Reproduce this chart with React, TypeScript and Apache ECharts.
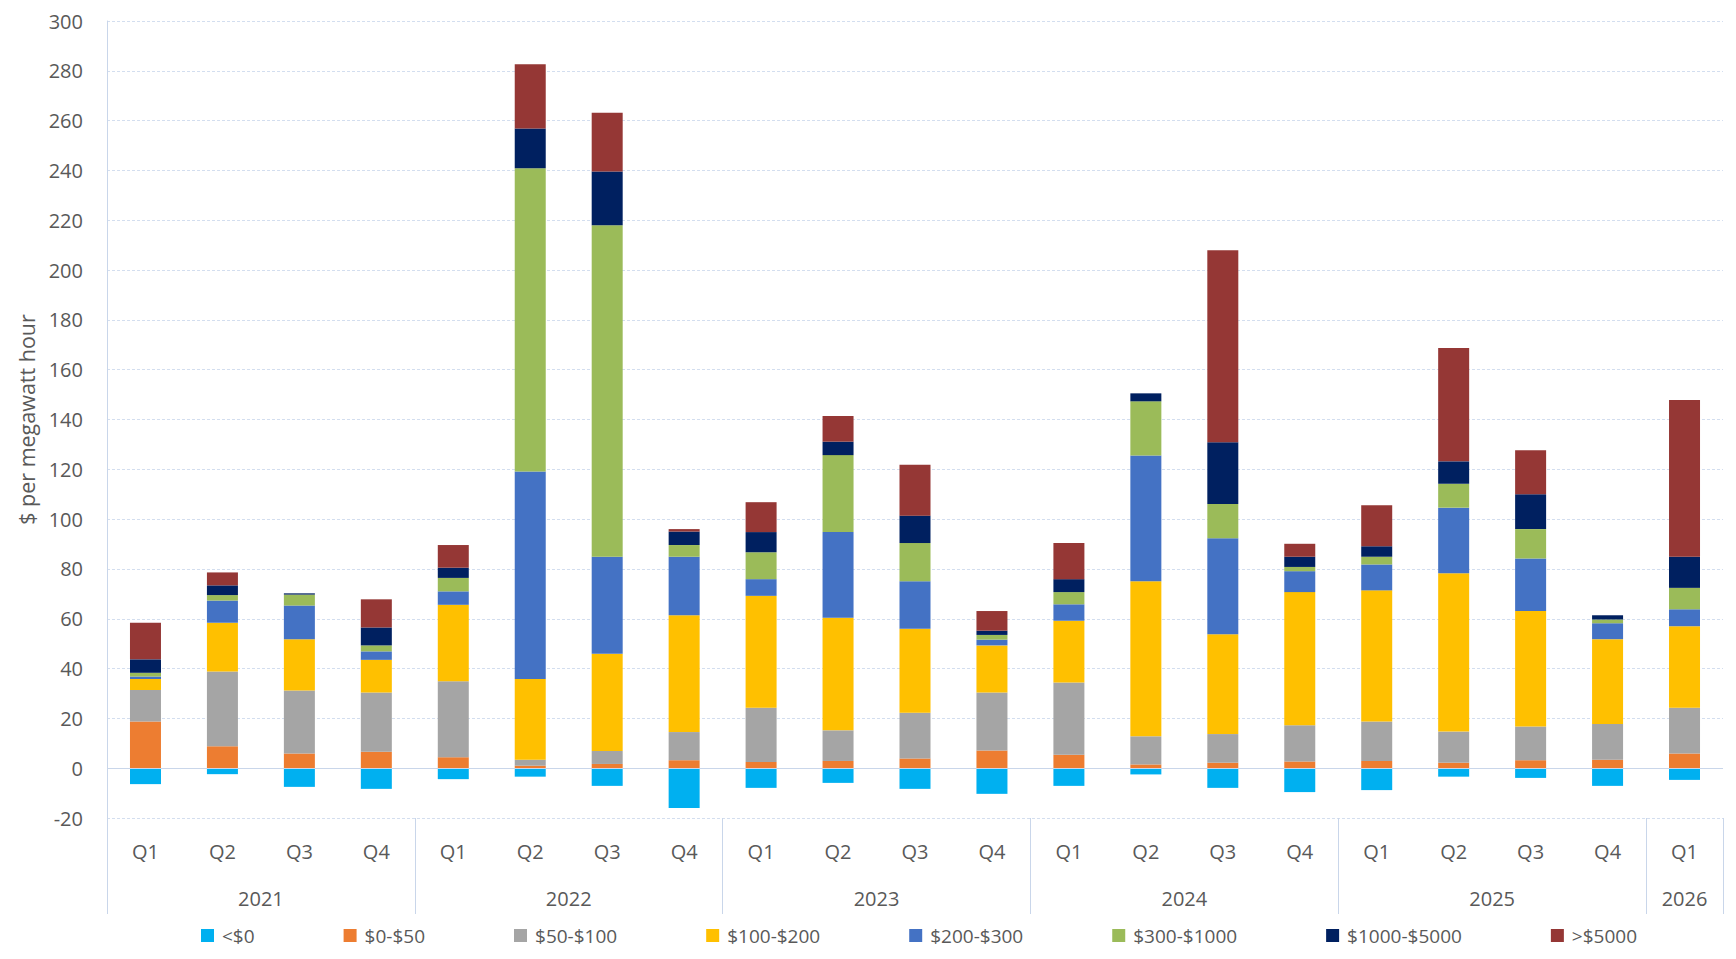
import React, { useEffect, useRef } from "react";
import * as echarts from "echarts";

const quarters = ["Q1","Q2","Q3","Q4","Q1","Q2","Q3","Q4","Q1","Q2","Q3","Q4","Q1","Q2","Q3","Q4","Q1","Q2","Q3","Q4","Q1"];
const years = ["2021","2022","2023","2024","2025","2026"];
const quartersPerYear = [4,4,4,4,4,1];

const seriesNames = ["<$0","$0-$50","$50-$100","$100-$200","$200-$300","$300-$1000","$1000-$5000",">$5000"];
const seriesColors = ["#00B0F0","#ED7D31","#A5A5A5","#FFC000","#4472C4","#9BBB59","#002060","#953735"];

const below0 = [-6.4,-2.4,-7.5,-8.3,-4.4,-3.4,-7.1,-16.0,-7.9,-5.9,-8.3,-10.3,-7.1,-2.5,-7.9,-9.6,-8.8,-3.4,-3.9,-7.1,-4.7];
const p0to50 = [18.7,8.8,5.9,6.6,4.4,1.0,1.7,3.2,2.5,2.9,3.9,7.1,5.4,1.5,2.2,2.7,2.9,2.2,3.2,3.4,5.9];
const p50to100 = [12.7,30.0,25.3,23.8,30.5,2.4,5.2,11.3,21.8,12.3,18.4,23.3,29.0,11.3,11.5,14.5,15.8,12.5,13.5,14.3,18.4];
const p100to200 = [4.4,19.6,20.6,13.1,30.7,32.4,39.0,46.9,44.9,45.2,33.7,18.9,24.8,62.3,40.1,53.5,52.7,63.6,46.4,34.1,32.7];
const p200to300 = [1.0,8.9,13.5,3.4,5.4,83.3,39.0,23.5,6.7,34.4,19.1,2.3,6.6,50.4,38.5,8.4,10.4,26.3,21.1,6.4,6.8];
const p300to1000 = [1.5,2.2,4.4,2.4,5.4,121.8,133.1,4.7,10.8,30.9,15.3,1.9,4.9,21.8,13.8,1.7,3.1,9.6,11.8,1.5,8.6];
const p1000to5000 = [5.4,3.9,0.5,7.2,4.1,15.9,21.6,5.4,8.1,5.4,11.0,1.7,5.2,3.2,24.8,4.1,4.2,9.0,14.0,1.7,12.5];
const above5000 = [14.7,5.2,0,11.3,9.1,25.8,23.6,1.0,12.0,10.3,20.4,7.9,14.5,0,77.1,5.2,16.5,45.5,17.7,0,62.9];

const seriesData = [below0,p0to50,p50to100,p100to200,p200to300,p300to1000,p1000to5000,above5000];

const yTicks = { min: -20, max: 300, interval: 20 };

const FONT = "'Open Sans', 'Noto Sans', sans-serif";
const TEXT = "#595959";
const LINE = "#C9D6EA";

export default function App() {
  const ref = useRef<HTMLDivElement>(null);
  useEffect(() => {
    if (!ref.current) return;
    const chart = echarts.init(ref.current, null, { renderer: "svg" });

    // year axis: two slots per quarter, boundaryGap false
    const slots = quarters.length * 2 + 1;
    const yearSlots: string[] = new Array(slots).fill("");
    const boundaries = new Set<number>([0]);
    let q = 0;
    years.forEach((y, i) => {
      const n = quartersPerYear[i];
      yearSlots[q * 2 + n] = y;
      q += n;
      boundaries.add(q * 2);
    });

    const option: any = {
      animation: false,
      textStyle: { fontFamily: FONT },
      grid: { left: 107, right: 13, top: 21, bottom: 141, containLabel: false },
      legend: {
        data: seriesNames,
        left: 196,
        top: 921,
        itemWidth: 13,
        itemHeight: 13,
        itemGap: 89,
        icon: "rect",
        selectedMode: false,
        textStyle: { color: TEXT, fontSize: 19, fontFamily: FONT, padding: [0, 0, 0, 3] },
      },
      xAxis: [
        {
          type: "category",
          data: quarters,
          position: "bottom",
          axisLine: { show: false, onZero: false },
          axisTick: { show: false },
          axisLabel: { color: TEXT, fontSize: 20, margin: 23, interval: 0, fontFamily: FONT },
        },
        {
          type: "category",
          data: yearSlots,
          boundaryGap: false,
          position: "bottom",
          gridIndex: 0,
          axisLine: { show: false, onZero: false },
          axisTick: {
            show: true,
            length: 96,
            interval: (idx: number) => boundaries.has(idx),
            lineStyle: { color: LINE, width: 1 },
          },
          axisLabel: { color: TEXT, fontSize: 20, margin: 70, interval: 0, fontFamily: FONT },
          splitLine: { show: false },
        },
      ],
      yAxis: {
        type: "value",
        min: yTicks.min,
        max: yTicks.max,
        interval: yTicks.interval,
        name: "$ per megawatt hour",
        nameLocation: "middle",
        nameGap: 58,
        nameTextStyle: { color: TEXT, fontSize: 21.5, fontFamily: FONT },
        axisLine: { show: true, lineStyle: { color: LINE, width: 1 } },
        axisTick: { show: false },
        axisLabel: { color: TEXT, fontSize: 20, margin: 24, fontFamily: FONT },
        splitLine: { show: true, lineStyle: { color: "#D3DEEF", type: [3, 2], width: 1 } },
      },
      series: seriesNames.map((name, i) => ({
        name,
        type: "bar",
        stack: "total",
        xAxisIndex: 0,
        barWidth: 31,
        itemStyle: { color: seriesColors[i] },
        data: seriesData[i],
        ...(i === 0
          ? {
              markLine: {
                silent: true,
                symbol: "none",
                label: { show: false },
                lineStyle: { color: LINE, type: "solid", width: 1 },
                data: [{ yAxis: 0 }],
              },
            }
          : {}),
      })),
    };
    chart.setOption(option);
    return () => chart.dispose();
  }, []);
  return (
    <div
      ref={ref}
      style={{ position: "fixed", left: 0, top: 0, width: 1736, height: 959, background: "#fff" }}
    />
  );
}
